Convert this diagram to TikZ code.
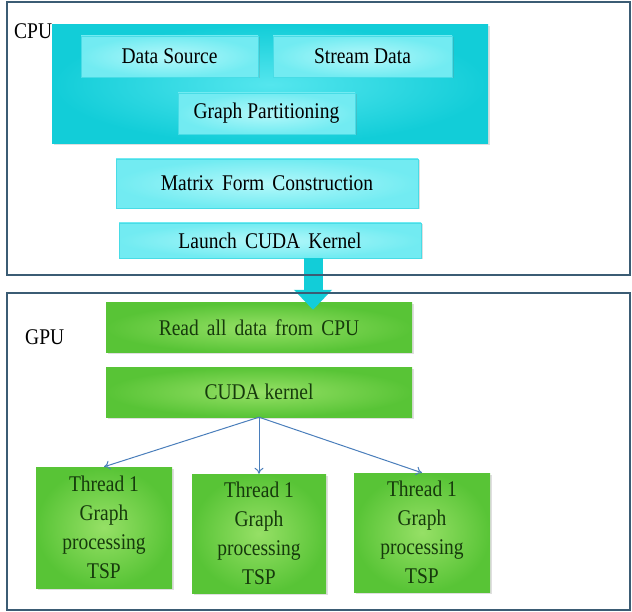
\documentclass[tikz,border=0pt]{standalone}
\usepackage{fontspec}
\setmainfont{Liberation Serif}
\usepackage{graphicx}
\usepackage{tikz}
\usetikzlibrary{arrows.meta, positioning, shadows}

\definecolor{framec}{HTML}{3B5C74}
\definecolor{cyandark}{HTML}{12CDD8}
\definecolor{cyanmid}{HTML}{55E6EE}
\definecolor{cyanlite}{HTML}{B4F8FA}
\definecolor{cyanedge}{HTML}{48DCE6}
\definecolor{greenedge}{HTML}{58C436}
\definecolor{greenlite}{HTML}{96E066}
\definecolor{greentext}{HTML}{163A0C}
\definecolor{arrowblue}{HTML}{4A7EBB}

% slightly tall lettering, as in the slide
\newcommand{\tall}[1]{\scalebox{1}[1.15]{#1}}

\begin{document}
\begin{tikzpicture}[
    x=1pt, y=-1pt,
    txt/.style={font=\fontsize{19.5}{29}\selectfont},
    frame/.style={rectangle, draw=framec, line width=2pt, inner sep=0pt},
    cpuback/.style={rectangle, inner sep=0pt, inner color=cyanmid, outer color=cyandark, drop shadow={opacity=0.25, shadow xshift=1.5pt, shadow yshift=-1.5pt}},
    cpublock/.style={rectangle, draw=cyanedge, line width=0.6pt, inner sep=0pt, inner color=cyanlite, outer color=cyanmid!70!cyanlite, txt, drop shadow={opacity=0.25, shadow xshift=1.5pt, shadow yshift=-1.5pt}},
    gpublock/.style={rectangle, inner sep=0pt, inner color=greenlite, outer color=greenedge, txt, text=greentext, align=center, drop shadow={opacity=0.25, shadow xshift=1.5pt, shadow yshift=-1.5pt}},
    arr/.style={-{To[length=6pt, width=9pt]}, line width=1pt, color=arrowblue},
    fatarr/.style={line width=19pt, color=cyandark, -{Triangle[length=20pt, width=37pt]}}
]
    \useasboundingbox (0,0) rectangle (632,612);

    % CPU side
    \node[cpuback, minimum width=436pt, minimum height=119pt] (cpuback) at (270,84.5) {};
    \node[cpublock, minimum width=177pt, minimum height=41pt] (source) at (169.5,56.5) {\tall{Data Source}};
    \node[cpublock, minimum width=179pt, minimum height=41pt] (stream) at (362.5,56.5) {\tall{Stream Data}};
    \node[cpublock, minimum width=177pt, minimum height=41pt] (part) at (266.5,113.5) {\tall{Graph Partitioning}};
    \node[cpublock, minimum width=302pt, minimum height=49pt] (matrix) at (267,183.5) {\tall{Matrix\, Form\, Construction}};
    \node[cpublock, minimum width=302pt, minimum height=35pt] (launch) at (270,240.5) {\tall{Launch\, CUDA\, Kernel}};
    \node[txt, anchor=west, inner sep=0pt] (cpulbl) at (14,31) {\tall{CPU}};

    % GPU side
    \node[gpublock, minimum width=306pt, minimum height=50pt] (read) at (259,328) {\tall{Read\, all\, data\, from\, CPU}};
    \node[gpublock, minimum width=306pt, minimum height=50pt] (kernel) at (259,392) {\tall{CUDA kernel}};
    \node[gpublock, minimum width=136pt, minimum height=121pt] (th1) at (104,527.5) {\tall{Thread 1}\\\tall{Graph}\\\tall{processing}\\\tall{TSP}};
    \node[gpublock, minimum width=134pt, minimum height=119pt] (th2) at (259,533.5) {\tall{Thread 1}\\\tall{Graph}\\\tall{processing}\\\tall{TSP}};
    \node[gpublock, minimum width=136pt, minimum height=119pt] (th3) at (422,532.5) {\tall{Thread 1}\\\tall{Graph}\\\tall{processing}\\\tall{TSP}};
    \node[txt, anchor=west, inner sep=0pt] (gpulbl) at (25,337) {\tall{GPU}};

    \draw[arr] (kernel.south) -- (th1.north);
    \draw[arr] (kernel.south) -- (th2.north);
    \draw[arr] (kernel.south) -- (th3.north);

    % transfer CPU -> GPU
    \draw[fatarr] ([xshift=43pt]launch.south) -- ([xshift=54pt, yshift=-7pt]read.north);

    % outer frames
    \node[frame, minimum width=623pt, minimum height=273pt] (cpu) at (318.5,138.5) {};
    \node[frame, minimum width=623pt, minimum height=317pt] (gpu) at (318.5,451.5) {};
\end{tikzpicture}
\end{document}
